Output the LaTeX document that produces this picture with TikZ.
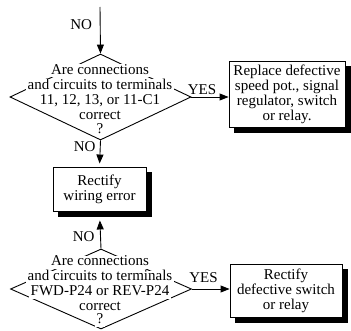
\documentclass[tikz,border=0pt]{standalone}
\usepackage{fontspec}
\setmainfont{Liberation Serif}
\usetikzlibrary{arrows.meta,shapes.geometric}
\begin{document}
\begin{tikzpicture}[x=1pt,y=1pt,
  line width=0.9pt,
  arr/.style={-{Triangle[length=9pt,width=7pt]}},
  dec/.style={draw, diamond, minimum width=181pt, inner sep=0pt},
  ln/.style={fill=white, inner xsep=1.5pt, inner ysep=0pt, text height=10pt, text depth=3pt, font=\fontsize{15}{15}\selectfont},
  act/.style={draw, fill=white, align=center, inner sep=0pt, font=\fontsize{15}{15}\selectfont},
  boxshadow/.style={fill=black, draw=none},
  lbl/.style={font=\fontsize{15}{15}\selectfont, inner sep=0pt}]
\useasboundingbox (0,0) rectangle (351,330);
\coordinate (top) at (100,323);
% first decision
\node[dec, minimum height=86pt] (d1) at (100.5,233) {};
\node[ln] (d1a) at (100,259) {Are connections};
\node[ln] (d1b) at (100,244) {and circuits to terminals};
\node[ln] (d1c) at (100,228.5) {11, 12, 13, or 11-C1};
\node[ln] (d1d) at (100,214) {correct};
\node[ln] (d1e) at (100,200) {?};
% boxes
\node[act, minimum width=116pt, minimum height=66pt] (b1) at (287,236)
  {Replace defective\\speed pot., signal\\regulator, switch\\or relay.};
\node[act, minimum width=93pt, minimum height=44pt] (b2) at (99.5,141)
  {Rectify\\wiring error};
% second decision
\node[dec, minimum height=80pt] (d2) at (101,41) {};
\node[ln] (d2a) at (100,68) {Are connections};
\node[ln] (d2b) at (100,53) {and circuits to terminals};
\node[ln] (d2c) at (100,38) {FWD-P24 or REV-P24};
\node[ln] (d2d) at (100,23) {correct};
\node[ln] (d2e) at (100,10) {?};
\node[act, minimum width=112pt, minimum height=53pt] (b3) at (286,39.5)
  {Rectify\\defective switch\\or relay};
% shadows (L-shaped strips right and below each box)
\foreach \bx in {b1,b2,b3}{
  \fill[boxshadow] ([yshift=-5.5pt]\bx.north east) -- ([shift={(5.5pt,-5.5pt)}]\bx.north east)
    -- ([shift={(5.5pt,-5.5pt)}]\bx.south east) -- ([shift={(5.5pt,-5.5pt)}]\bx.south west)
    -- ([xshift=5.5pt]\bx.south west) -- (\bx.south east) -- cycle;
}
% connectors
\draw[arr] (top) -- (d1.north);
\node[lbl, anchor=east] (no1) at (92.5,305) {NO};
\draw[arr, shorten >=3pt] (d1.south) -- (b2.north);
\node[lbl, anchor=east] (no2) at (96,183) {NO};
\draw[arr] (d1.east) -- (d1.east -| b1.west);
\node[lbl] (yes1) at (202,240) {YES};
\draw[arr, shorten >=9pt] (d2.north) -- (b2.south);
\node[lbl, anchor=east] (no3) at (95,93) {NO};
\draw[arr] (d2.east) -- (d2.east -| b3.west);
\node[lbl] (yes2) at (203.5,52) {YES};
\end{tikzpicture}
\end{document}
